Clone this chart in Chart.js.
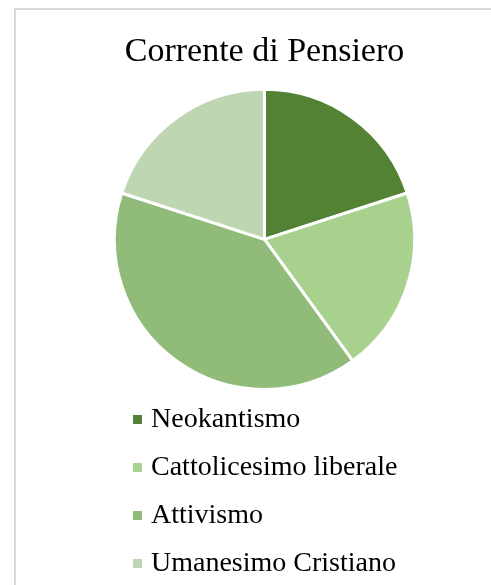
<!DOCTYPE html>
<html>
<head>
<meta charset="utf-8">
<script src="https://cdn.jsdelivr.net/npm/chart.js@4/dist/chart.umd.min.js"></script>
<style>
  body { margin: 0; background: #fff; overflow: hidden; }
  #frame { position: absolute; left: 14px; top: 8px; width: 600px; height: 700px; border: 2px solid #d9d9d9; }
  #pie_chart { position: absolute; left: 0; top: 0; }
</style>
</head>
<body>
<div id="frame"></div>
<canvas id="pie_chart" width="491" height="585"></canvas>
<script>
// Corrente di Pensiero - pie with a vertical legend underneath

const labels = ['Neokantismo', 'Cattolicesimo liberale', 'Attivismo', 'Umanesimo Cristiano'];
const values = [1, 1, 2, 1];
const colors = ['#548235', '#A9D18E', '#91BB79', '#BFD6B3'];

const serif = '"Liberation Serif", "Times New Roman", serif';

// legend drawn by hand so the entries stack one per line
const stackedLegend = {
    id: 'stackedLegend',
    afterDraw(chart) {
        const ctx = chart.ctx;
        ctx.save();
        ctx.font = '28px ' + serif;
        ctx.textBaseline = 'alphabetic';
        ctx.textAlign = 'left';
        for (let i = 0; i < labels.length; i++) {
            let y = 427 + i * 48;
            ctx.fillStyle = colors[i];
            ctx.fillRect(133, y - 12, 9, 9);
            ctx.fillStyle = '#000';
            ctx.fillText(labels[i], 151, y);
        }
        ctx.restore();
    }
};

const ctx_pie = document.getElementById('pie_chart').getContext('2d');
let pie_chart = new Chart(ctx_pie, {
    type: 'pie',
    data: {
        labels: labels,
        datasets: [{
            data: values,
            backgroundColor: colors,
            borderColor: '#ffffff',
            borderWidth: 3,
        }]
    },
    options: {
        responsive: false,
        animation: false,
        layout: {
            padding: { left: 38, right: 0, top: 0, bottom: 194 }
        },
        plugins: {
            legend: { display: false },
            tooltip: { enabled: false },
            title: {
                display: true,
                text: 'Corrente di Pensiero',
                color: '#000',
                font: { family: serif, size: 34, weight: 'normal', lineHeight: 1.2 },
                padding: { top: 32, bottom: 15 }
            }
        }
    },
    plugins: [stackedLegend]
});
</script>
</body>
</html>
